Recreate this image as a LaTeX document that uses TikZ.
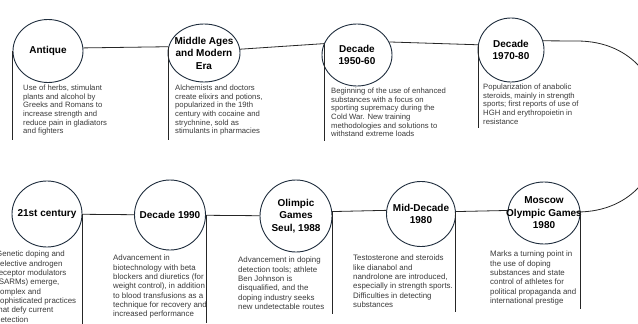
\documentclass[tikz,border=0pt]{standalone}
\usepackage{fontspec}
\usetikzlibrary{shapes.geometric}
\setmainfont{Liberation Sans}
\definecolor{ring}{HTML}{1F2D3D}
\definecolor{txt}{HTML}{3A3A3A}

\begin{document}
\begin{tikzpicture}[x=1pt,y=-1pt,
  event/.style={ellipse,draw=ring,line width=0.9pt,minimum width=70pt,minimum height=64pt,inner sep=0pt,
    label={[font=\bfseries\fontsize{10}{12.5}\selectfont,align=center,inner sep=0pt]center:{#1}}},
  note/.style={anchor=north west,inner sep=0pt,align=left,text=txt,font=\fontsize{7.7}{8.6}\selectfont},
  lownote/.style={note,font=\fontsize{7.9}{9.3}\selectfont},
  tl/.style={draw=black!85,line width=0.8pt},
  drop/.style={tl,shorten >=-4pt}]
  \useasboundingbox (0,0) rectangle (638,324);
  \clip (0,0) rectangle (638,324);

  \node[event={Antique},minimum height=63pt] (antique) at (48,51) {};
  \node[event={Middle Ages\\and Modern\\Era},minimum width=72pt,minimum height=58pt] (midages) at (204,53) {};
  \node[event={Decade\\1950-60},minimum height=62pt] (d5060) at (357,55) {};
  \node[event={Decade\\1970-80},minimum width=66pt] (d7080) at (511,50) {};

  \node[note] (antiqueTxt) at (23,85) {Use of herbs, stimulant\\plants and alcohol by\\Greeks and Romans to\\increase strength and\\reduce pain in gladiators\\and fighters};
  \node[note] (midagesTxt) at (175,85) {Alchemists and doctors\\create elixirs and potions,\\popularized in the 19th\\century with cocaine and\\strychnine, sold as\\stimulants in pharmacies};
  \node[note] (d5060Txt) at (331,88) {Beginning of the use of enhanced\\substances with a focus on\\sporting supremacy during the\\Cold War. New training\\methodologies and solutions to\\withstand extreme loads};
  \node[note] (d7080Txt) at (483,84) {Popularization of anabolic\\steroids, mainly in strength\\sports; first reports of use of\\HGH and erythropoietin in\\resistance};

  \node[event={21st century},minimum height=66pt] (c21) at (47,214) {};
  \node[event={Decade 1990},minimum width=71pt,minimum height=70pt] (d1990) at (170,215) {};
  \node[event={Olimpic\\Games\\Seul, 1988},minimum width=72pt,minimum height=72pt] (seoul) at (296,216) {};
  \node[event={Mid-Decade\\1980},minimum width=69pt,minimum height=65pt] (mid80) at (421,214) {};
  \node[event={Moscow\\Olympic Games\\1980},minimum width=72pt,minimum height=62pt] (moscow) at (544,213) {};

  \node[lownote] (c21Txt) at (-4,251) {Genetic doping and\\selective androgen\\receptor modulators\\(SARMs) emerge,\\complex and\\sophisticated practices\\that defy current\\detection};
  \node[lownote] (d1990Txt) at (113,255) {Advancement in\\biotechnology with beta\\blockers and diuretics (for\\weight control), in addition\\to blood transfusions as a\\technique for recovery and\\increased performance};
  \node[lownote] (seoulTxt) at (238,257) {Advancement in doping\\detection tools; athlete\\Ben Johnson is\\disqualified, and the\\doping industry seeks\\new undetectable routes};
  \node[lownote] (mid80Txt) at (353,255) {Testosterone and steroids\\like dianabol and\\nandrolone are introduced,\\especially in strength sports.\\Difficulties in detecting\\substances};
  \node[lownote] (moscowTxt) at (490,251) {Marks a turning point in\\the use of doping\\substances and state\\control of athletes for\\political propaganda and\\international prestige};

  \coordinate (arcTop) at (577,41);
  \coordinate (arcBot) at (577,212);

  \draw[tl] (antique.5) -- (midages.170);
  \draw[tl] (midages.6) -- (d5060.161);
  \draw[tl] (d5060.22) -- (d7080.171);
  \draw[tl] (d7080.16) -- (arcTop) .. controls +(113,0) and +(113,0) .. (arcBot) -- (moscow.3);
  \draw[tl] (c21) -- (d1990);
  \draw[tl] (d1990) -- (seoul);
  \draw[tl] (seoul.7) -- (mid80.174);
  \draw[tl] (mid80.4) -- (moscow.176);

  \draw[drop] (antique.west) -- (antique.west |- antiqueTxt.south);
  \draw[drop] (midages.170) -- (midages.170 |- midagesTxt.south);
  \draw[drop] (d5060.161) -- (d5060.161 |- d5060Txt.south);
  \draw[drop] (d7080.171) -- (d7080.171 |- d7080Txt.south);
  \draw[drop] (c21.east) -- (c21.east |- c21Txt.south);
  \draw[drop] (d1990.east) -- (d1990.east |- d1990Txt.south);
  \draw[drop] (seoul.7) -- (seoul.7 |- seoulTxt.south);
  \draw[drop] (mid80.4) -- (mid80.4 |- mid80Txt.south);
  \draw[drop] (moscow.3) -- (moscow.3 |- moscowTxt.south);
\end{tikzpicture}
\end{document}
